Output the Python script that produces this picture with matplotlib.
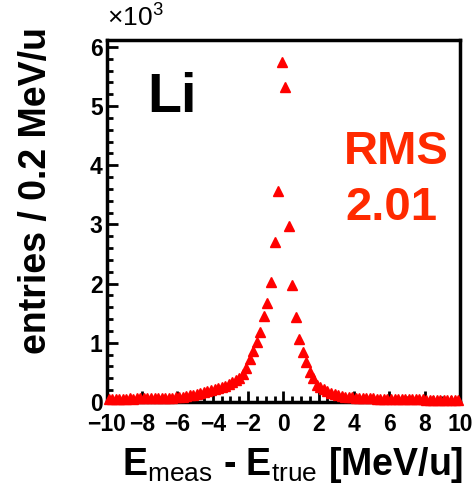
import numpy as np
import matplotlib.pyplot as plt
from matplotlib.ticker import MultipleLocator

plt.rcParams['font.family'] = ['Liberation Sans', 'DejaVu Sans']
plt.rcParams['mathtext.fontset'] = 'custom'
plt.rcParams['mathtext.rm'] = 'Liberation Sans'
plt.rcParams['mathtext.bf'] = 'Liberation Sans:bold'

# bin centres, 0.2 MeV/u bins from -10 to 10
bin_centres = np.round(np.arange(-9.9, 10.0, 0.2), 1)

entries_left = [55, 54, 56, 55, 57, 56, 58, 57, 59, 60,
                60, 61, 62, 63, 65, 66, 68, 70, 74, 78,
                82, 90, 100, 110, 120, 135, 150, 165, 185, 205,
                220, 235, 250, 275, 305, 330, 370, 410, 470, 580,
                720, 860, 1010, 1190, 1460, 1680, 2020, 2700, 3560, 5740]
entries_right = [5330, 2970, 1970, 1440, 1070, 840, 680, 500, 410, 290,
                 250, 210, 180, 150, 130, 115, 100, 88, 80, 75,
                 70, 68, 65, 62, 60, 58, 56, 54, 52, 50,
                 49, 48, 47, 46, 45, 44, 43, 42, 42, 41,
                 40, 40, 39, 38, 38, 37, 37, 36, 36, 35]
entries = np.array(entries_left + entries_right)

fig = plt.figure(figsize=(4.75, 4.86), dpi=100)
ax = fig.add_axes([0.225, 0.173, 0.743, 0.745])

ax.plot(bin_centres, entries, linestyle="none", marker="^", color="red",
        markersize=6.5, clip_on=False, zorder=3)

ax.set_xlim(-10, 10)
ax.set_ylim(0, 6120)

ax.xaxis.set_minor_locator(MultipleLocator(0.5))
ax.yaxis.set_minor_locator(MultipleLocator(200))
ax.set_yticks(np.arange(0, 7000, 1000))
ax.set_yticklabels([str(i) for i in range(7)])
ax.set_xticks(np.arange(-10, 11, 2))
ax.set_xticklabels([str(v).replace("-", "\u2212") for v in range(-10, 11, 2)])

ax.tick_params(which="both", direction="in", width=2, top=False, right=False,
               labelsize=16.5)
ax.tick_params(which="major", length=8)
ax.tick_params(axis="x", which="major", pad=8)
ax.tick_params(axis="y", which="major", pad=3)
ax.tick_params(which="minor", length=4)
for lab in ax.get_xticklabels() + ax.get_yticklabels():
    lab.set_fontweight("bold")
for sp in ax.spines.values():
    sp.set_linewidth(2.5)

ax.set_ylabel("entries / 0.2 MeV/u", fontsize=27, fontweight="bold")
ax.yaxis.set_label_coords(-0.15, 0.585)
ax.set_xlabel(r"E$_{\mathrm{meas}}$ - E$_{\mathrm{true}}$ [MeV/u]",
              fontsize=27, fontweight="bold")
ax.xaxis.set_label_coords(0.527, -0.118)

ax.text(0.0, 1.04, r"$\times$10$^{3}$", transform=ax.transAxes, fontsize=19,
        ha="left", va="baseline")
ax.text(0.115, 0.84, "Li", transform=ax.transAxes, fontsize=40,
        fontweight="bold", ha="left", va="center")
ax.text(0.819, 0.69, "RMS", transform=ax.transAxes, fontsize=34,
        color="#ff2a00", fontweight="bold", ha="center", va="center")
ax.text(0.807, 0.535, "2.01", transform=ax.transAxes, fontsize=34,
        color="#ff2a00", fontweight="bold", ha="center", va="center")

fig.savefig("out.png", dpi=100)
